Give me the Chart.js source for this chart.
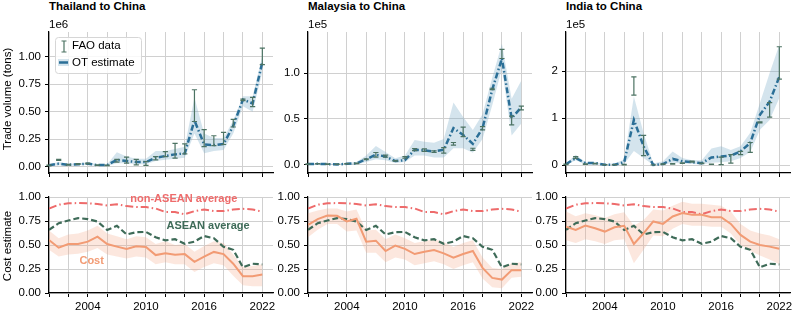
<!DOCTYPE html>
<html>
<head>
<meta charset="utf-8">
<script src="https://cdn.jsdelivr.net/npm/chart.js@4.4.1/dist/chart.umd.min.js"></script>
<style>
  body { margin: 0; background: #fff; }
  #fig { position: relative; width: 792px; height: 313px; overflow: hidden; font-family: "Liberation Sans", Arial, sans-serif; color: #000; }
  canvas { position: absolute; }
  .txt { position: absolute; white-space: nowrap; font-size: 11.5px; line-height: 14px; }
  .bold { font-weight: bold; }
  .ylab { text-align: center; transform: rotate(-90deg); transform-origin: center; }
</style>
</head>
<body>
<div id="fig"></div>
<script>
const years = [2000, 2001, 2002, 2003, 2004, 2005, 2006, 2007, 2008, 2009, 2010, 2011,
               2012, 2013, 2014, 2015, 2016, 2017, 2018, 2019, 2020, 2021, 2022];
const xTickLabels = [2004, 2010, 2016, 2022];

// trade volume, Thailand (x1e6 tons)
const thOT    = [0.010, 0.025, 0.015, 0.020, 0.025, 0.012, 0.012, 0.060, 0.050, 0.040, 0.040, 0.080, 0.095, 0.110, 0.120, 0.420, 0.200, 0.195, 0.205, 0.370, 0.610, 0.575, 0.950];
const thOTLo  = [0.000, 0.010, 0.005, 0.010, 0.015, 0.005, 0.005, 0.030, 0.030, 0.020, 0.020, 0.050, 0.060, 0.070, 0.080, 0.300, 0.120, 0.140, 0.150, 0.300, 0.550, 0.500, 0.860];
const thOTHi  = [0.020, 0.040, 0.025, 0.030, 0.035, 0.020, 0.020, 0.130, 0.090, 0.070, 0.070, 0.140, 0.140, 0.160, 0.180, 0.630, 0.300, 0.260, 0.260, 0.420, 0.640, 0.640, 1.010];
const thFaoLo = [0.006, 0.055, 0.012, 0.018, 0.022, 0.010, 0.008, 0.040, 0.030, 0.015, 0.010, 0.060, 0.090, 0.075, 0.115, 0.410, 0.180, 0.190, 0.200, 0.360, 0.600, 0.545, 0.930];
const thFaoHi = [0.012, 0.065, 0.018, 0.025, 0.030, 0.014, 0.012, 0.065, 0.085, 0.065, 0.045, 0.090, 0.135, 0.210, 0.205, 0.700, 0.335, 0.280, 0.310, 0.430, 0.615, 0.630, 1.080];

// trade volume, Malaysia (x1e5 tons)
const myOT    = [0.007, 0.010, 0.007, 0.004, 0.010, 0.015, 0.060, 0.110, 0.090, 0.040, 0.050, 0.163, 0.156, 0.145, 0.163, 0.400, 0.326, 0.228, 0.400, 0.820, 1.160, 0.507, 0.627];
const myOTLo  = [0.000, 0.000, 0.000, 0.000, 0.000, 0.003, 0.030, 0.060, 0.050, 0.020, 0.030, 0.100, 0.100, 0.080, 0.080, 0.180, 0.180, 0.130, 0.280, 0.650, 1.050, 0.320, 0.450];
const myOTHi  = [0.015, 0.020, 0.015, 0.012, 0.020, 0.030, 0.100, 0.205, 0.140, 0.070, 0.100, 0.270, 0.250, 0.240, 0.280, 0.680, 0.520, 0.380, 0.550, 0.950, 1.320, 0.720, 0.920];
const myFaoLo = [0.005, 0.008, 0.005, 0.003, 0.008, 0.013, 0.055, 0.083, 0.083, 0.038, 0.072, 0.155, 0.145, 0.134, 0.127, 0.214, 0.308, 0.156, 0.380, 0.820, 1.160, 0.435, 0.600];
const myFaoHi = [0.009, 0.012, 0.009, 0.006, 0.012, 0.017, 0.065, 0.134, 0.105, 0.046, 0.090, 0.175, 0.174, 0.152, 0.188, 0.243, 0.410, 0.180, 0.417, 0.835, 1.260, 0.530, 0.640];

// trade volume, India (x1e5 tons)
const inOT    = [0.015, 0.150, 0.040, 0.045, 0.005, 0.005, 0.060, 0.960, 0.400, 0.000, 0.020, 0.130, 0.080, 0.060, 0.040, 0.160, 0.180, 0.200, 0.290, 0.470, 1.070, 1.350, 1.880];
const inOTLo  = [0.000, 0.100, 0.010, 0.010, 0.000, 0.000, 0.020, 0.300, 0.150, 0.000, 0.000, 0.050, 0.030, 0.020, 0.010, 0.050, 0.060, 0.080, 0.150, 0.280, 0.750, 0.960, 1.430];
const inOTHi  = [0.030, 0.220, 0.060, 0.060, 0.020, 0.030, 0.120, 1.460, 0.680, 0.030, 0.080, 0.290, 0.150, 0.100, 0.100, 0.350, 0.400, 0.320, 0.400, 0.690, 1.320, 1.960, 2.560];
const inFaoLo = [0.010, 0.140, 0.015, 0.025, 0.003, 0.003, 0.005, 1.490, 0.200, 0.002, 0.015, 0.020, 0.035, 0.060, 0.030, 0.012, 0.010, 0.040, 0.220, 0.270, 0.900, 1.020, 1.830];
const inFaoHi = [0.020, 0.180, 0.025, 0.035, 0.008, 0.008, 0.015, 1.880, 0.630, 0.006, 0.025, 0.030, 0.045, 0.085, 0.040, 0.020, 0.170, 0.220, 0.290, 0.480, 0.920, 1.330, 2.520];

// cost estimates
const nonAsean = [0.880, 0.920, 0.934, 0.937, 0.934, 0.927, 0.912, 0.925, 0.905, 0.895, 0.895, 0.880, 0.843, 0.843, 0.820, 0.853, 0.870, 0.853, 0.853, 0.870, 0.877, 0.870, 0.846];
const asean    = [0.657, 0.727, 0.755, 0.780, 0.770, 0.745, 0.657, 0.700, 0.610, 0.633, 0.636, 0.580, 0.548, 0.560, 0.512, 0.535, 0.594, 0.570, 0.482, 0.450, 0.268, 0.305, 0.297];

const thCost   = [0.552, 0.472, 0.510, 0.510, 0.535, 0.587, 0.510, 0.483, 0.458, 0.486, 0.480, 0.395, 0.415, 0.398, 0.405, 0.325, 0.380, 0.428, 0.405, 0.305, 0.175, 0.175, 0.192];
const thCostLo = [0.450, 0.380, 0.400, 0.410, 0.430, 0.470, 0.400, 0.380, 0.360, 0.380, 0.370, 0.300, 0.320, 0.300, 0.300, 0.220, 0.270, 0.310, 0.290, 0.180, 0.080, 0.070, 0.070];
const thCostHi = [0.650, 0.570, 0.610, 0.620, 0.650, 0.700, 0.620, 0.590, 0.560, 0.590, 0.580, 0.510, 0.540, 0.500, 0.510, 0.430, 0.490, 0.540, 0.520, 0.400, 0.270, 0.280, 0.300];

const myCost   = [0.710, 0.770, 0.807, 0.804, 0.745, 0.773, 0.535, 0.545, 0.437, 0.493, 0.460, 0.406, 0.430, 0.448, 0.413, 0.367, 0.406, 0.437, 0.262, 0.157, 0.140, 0.238, 0.238];
const myCostLo = [0.580, 0.660, 0.720, 0.720, 0.640, 0.650, 0.420, 0.420, 0.320, 0.370, 0.350, 0.290, 0.310, 0.330, 0.300, 0.250, 0.290, 0.320, 0.150, 0.060, 0.050, 0.160, 0.170];
const myCostHi = [0.830, 0.860, 0.880, 0.880, 0.850, 0.870, 0.650, 0.660, 0.560, 0.610, 0.570, 0.520, 0.540, 0.560, 0.530, 0.480, 0.520, 0.550, 0.370, 0.260, 0.250, 0.310, 0.320];

const inCost   = [0.690, 0.657, 0.703, 0.675, 0.640, 0.685, 0.700, 0.510, 0.622, 0.745, 0.720, 0.797, 0.832, 0.815, 0.815, 0.790, 0.790, 0.720, 0.605, 0.535, 0.500, 0.483, 0.462];
const inCostLo = [0.550, 0.520, 0.560, 0.540, 0.510, 0.550, 0.560, 0.310, 0.450, 0.600, 0.590, 0.670, 0.720, 0.700, 0.700, 0.690, 0.690, 0.620, 0.500, 0.440, 0.390, 0.350, 0.300];
const inCostHi = [0.850, 0.800, 0.830, 0.810, 0.780, 0.820, 0.840, 0.700, 0.760, 0.870, 0.860, 0.910, 0.950, 0.930, 0.930, 0.920, 0.910, 0.850, 0.720, 0.650, 0.620, 0.600, 0.560];

const FONT = '"Liberation Sans", Arial, sans-serif';
const GRID = '#d0d0d0';
const OT_BLUE = '#2b6f97';
const BAND_BLUE = 'rgba(120,170,200,0.32)';
const FAO_GREEN = '#4c7363';
const COST_ORANGE = '#f29b74';
const COST_BAND = 'rgba(244,160,125,0.25)';
const RED = '#ee6b6b';
const GREEN = '#3e6b58';

const fig = document.getElementById('fig');
const cols = [49, 308, 566];
const PLOT_W = 224;
const PAD_L = 45, PAD_T = 8, PAD_R = 8;

function addCanvas(left, top, w, h) {
  const c = document.createElement('canvas');
  c.width = w; c.height = h;
  c.style.left = left + 'px'; c.style.top = top + 'px';
  c.style.width = w + 'px'; c.style.height = h + 'px';
  fig.appendChild(c);
  return c;
}

function addText(text, left, cy, cls, extra) {
  const d = document.createElement('div');
  d.className = 'txt ' + (cls || '');
  d.textContent = text;
  d.style.left = left + 'px';
  d.style.top = (cy - 7) + 'px';
  if (extra) Object.assign(d.style, extra);
  fig.appendChild(d);
  return d;
}

function addYLabel(text, cx, cy) {
  const w = 160;
  addText(text, cx - w / 2, cy, 'ylab', { width: w + 'px' });
}

const pts = arr => years.map((x, i) => ({ x, y: arr[i] }));

function bandSets(lo, hi, color) {
  return [
    { data: pts(lo), borderWidth: 0, borderColor: 'transparent', pointRadius: 0, fill: false, order: 10 },
    { data: pts(hi), borderWidth: 0, borderColor: 'transparent', pointRadius: 0, fill: '-1', backgroundColor: color, order: 10 }
  ];
}

function xScale(showLabels, h) {
  return {
    type: 'linear', min: 2000, max: 2023.1,
    ticks: {
      stepSize: 2, includeBounds: false, autoSkip: false, maxRotation: 0, padding: 3,
      color: '#000', font: { family: FONT, size: 11.5 },
      callback: v => (showLabels && xTickLabels.includes(v)) ? String(v) : ''
    },
    grid: { color: GRID, lineWidth: 1, tickColor: '#000', tickLength: 4, tickWidth: 1 },
    border: { color: '#000', width: 1.2 },
    afterFit: s => { s.height = h; s.paddingLeft = 0; s.paddingRight = 0; }
  };
}

function yScale(min, max, step, digits) {
  return {
    min, max,
    ticks: {
      stepSize: step, includeBounds: false, padding: 4,
      color: '#000', font: { family: FONT, size: 11.5 },
      callback: v => Number(v).toFixed(digits)
    },
    grid: { color: GRID, lineWidth: 1, tickColor: '#000', tickLength: 4, tickWidth: 1 },
    border: { color: '#000', width: 1.2 },
    afterFit: s => { s.width = PAD_L; s.paddingTop = 0; s.paddingBottom = 0; }
  };
}

function errorBars(lo, hi) {
  return {
    id: 'errorBars',
    afterDatasetsDraw(chart) {
      const { ctx, scales: { x, y } } = chart;
      ctx.save();
      ctx.strokeStyle = FAO_GREEN;
      ctx.lineWidth = 1.2;
      years.forEach((yr, i) => {
        if (lo[i] == null) return;
        const px = x.getPixelForValue(yr);
        const y0 = y.getPixelForValue(lo[i]), y1 = y.getPixelForValue(hi[i]);
        ctx.beginPath();
        ctx.moveTo(px, y0); ctx.lineTo(px, y1);
        ctx.moveTo(px - 2.6, y0); ctx.lineTo(px + 2.6, y0);
        ctx.moveTo(px - 2.6, y1); ctx.lineTo(px + 2.6, y1);
        ctx.stroke();
      });
      ctx.restore();
    }
  };
}

const legendBox = {
  id: 'legendBox',
  afterDraw(chart) {
    const { ctx, chartArea: a } = chart;
    const bx = a.left + 6, by = a.top + 5, bw = 86, bh = 36;
    ctx.save();
    ctx.beginPath();
    ctx.roundRect(bx + 0.5, by + 0.5, bw, bh, 3);
    ctx.fillStyle = 'rgba(255,255,255,0.85)';
    ctx.fill();
    ctx.strokeStyle = '#d6d6d6';
    ctx.lineWidth = 1;
    ctx.stroke();
    // FAO data icon
    const ix = bx + 9;
    ctx.strokeStyle = FAO_GREEN; ctx.lineWidth = 1.2;
    ctx.beginPath();
    ctx.moveTo(ix, by + 4); ctx.lineTo(ix, by + 15);
    ctx.moveTo(ix - 2.5, by + 4); ctx.lineTo(ix + 2.5, by + 4);
    ctx.moveTo(ix - 2.5, by + 15); ctx.lineTo(ix + 2.5, by + 15);
    ctx.stroke();
    // OT estimate icon
    ctx.fillStyle = BAND_BLUE;
    ctx.fillRect(bx + 3, by + 22, 11, 7);
    ctx.strokeStyle = OT_BLUE; ctx.lineWidth = 2.5;
    ctx.beginPath();
    ctx.moveTo(bx + 4, by + 25.5); ctx.lineTo(bx + 13, by + 25.5);
    ctx.stroke();
    ctx.fillStyle = '#000';
    ctx.font = '11.5px ' + FONT;
    ctx.textBaseline = 'middle';
    ctx.fillText('FAO data', bx + 17, by + 9);
    ctx.fillText('OT estimate', bx + 17, by + 25.5);
    ctx.restore();
  }
};

function textLabels(items) {
  return {
    id: 'textLabels',
    afterDatasetsDraw(chart) {
      const { ctx, scales: { x, y } } = chart;
      ctx.save();
      ctx.font = 'bold 11px ' + FONT;
      ctx.textAlign = 'center';
      ctx.textBaseline = 'middle';
      items.forEach(t => {
        ctx.fillStyle = t.color;
        ctx.fillText(t.text, x.getPixelForValue(t.x), y.getPixelForValue(t.y));
      });
      ctx.restore();
    }
  };
}

function makeChart({ col, row, datasets, yMin, yMax, yStep, digits, plugins }) {
  const xh = row === 0 ? 6 : 20;
  const rowTop = row === 0 ? 32 : 197;
  const rowH = row === 0 ? 141 : 96;
  const canvas = addCanvas(cols[col] - PAD_L, rowTop - PAD_T, PAD_L + PLOT_W + PAD_R, PAD_T + rowH + xh);
  new Chart(canvas, {
    type: 'line',
    data: { datasets },
    options: {
      responsive: false, animation: false, events: [],
      layout: { padding: { left: 0, top: PAD_T, right: PAD_R, bottom: 0 } },
      plugins: { legend: { display: false }, tooltip: { enabled: false }, filler: { drawTime: 'beforeDatasetsDraw' } },
      scales: { x: xScale(row === 1, xh), y: yScale(yMin, yMax, yStep, digits) }
    },
    plugins: plugins || []
  });
}

function volumeSets(ot, lo, hi) {
  return [
    ...bandSets(lo, hi, BAND_BLUE),
    { data: pts(ot), borderColor: OT_BLUE, borderWidth: 2.5, borderDash: [6, 2.5, 1.5, 2.5], pointRadius: 0, fill: false, order: 0 }
  ];
}

function costSets(cost, lo, hi) {
  return [
    ...bandSets(lo, hi, COST_BAND),
    { data: pts(nonAsean), borderColor: RED, borderWidth: 2, borderDash: [8, 3, 1.5, 3], pointRadius: 0, fill: false, order: 3 },
    { data: pts(asean), borderColor: GREEN, borderWidth: 2.2, borderDash: [6, 3], pointRadius: 0, fill: false, order: 2 },
    { data: pts(cost), borderColor: COST_ORANGE, borderWidth: 2, pointRadius: 0, fill: false, order: 1 }
  ];
}

// top row: trade volume
makeChart({ col: 0, row: 0, datasets: volumeSets(thOT, thOTLo, thOTHi), yMin: -0.06, yMax: 1.227, yStep: 0.25, digits: 2,
  plugins: [errorBars(thFaoLo, thFaoHi), legendBox] });
makeChart({ col: 1, row: 0, datasets: volumeSets(myOT, myOTLo, myOTHi), yMin: -0.09, yMax: 1.449, yStep: 0.5, digits: 1,
  plugins: [errorBars(myFaoLo, myFaoHi)] });
makeChart({ col: 2, row: 0, datasets: volumeSets(inOT, inOTLo, inOTHi), yMin: -0.17, yMax: 2.834, yStep: 1, digits: 0,
  plugins: [errorBars(inFaoLo, inFaoHi)] });

// bottom row: cost estimate
makeChart({ col: 0, row: 1, datasets: costSets(thCost, thCostLo, thCostHi), yMin: 0, yMax: 1, yStep: 0.25, digits: 2,
  plugins: [textLabels([
    { text: 'non-ASEAN average', x: 2013.9, y: 0.98, color: RED },
    { text: 'ASEAN average', x: 2016.4, y: 0.70, color: GREEN },
    { text: 'Cost', x: 2004.4, y: 0.33, color: COST_ORANGE }
  ])] });
makeChart({ col: 1, row: 1, datasets: costSets(myCost, myCostLo, myCostHi), yMin: 0, yMax: 1, yStep: 0.25, digits: 2 });
makeChart({ col: 2, row: 1, datasets: costSets(inCost, inCostLo, inCostHi), yMin: 0, yMax: 1, yStep: 0.25, digits: 2 });

// titles, offset texts, axis titles
addText('Thailand to China', 49, 5.5, 'bold');
addText('Malaysia to China', 308, 5.5, 'bold');
addText('India to China', 566, 5.5, 'bold');
addText('1e6', 49, 23.5);
addText('1e5', 308, 23.5);
addText('1e5', 566, 23.5);
addYLabel('Trade volume (tons)', 7, 99);
addYLabel('Cost estimate', 7, 246);
</script>
</body>
</html>
